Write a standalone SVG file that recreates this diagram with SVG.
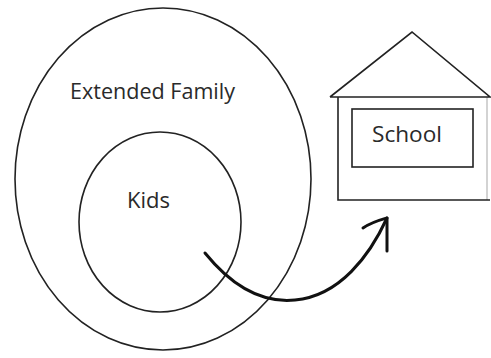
<svg xmlns="http://www.w3.org/2000/svg" width="491" height="358" viewBox="0 0 491 358">
<style>
.ln{fill:none;stroke:#222;stroke-width:1.6}
.ar{fill:none;stroke:#111;stroke-width:3;stroke-linecap:round;stroke-linejoin:round}
.t{font-family:"Open Sans","Liberation Sans",sans-serif;fill:#2a2a2a}
</style>
<rect width="491" height="358" fill="#fff"/>
<g id="extended-family">
<ellipse class="ln" cx="163" cy="179" rx="148" ry="171"/>
<text class="t" x="70" y="99" font-size="21.5" textLength="165" lengthAdjust="spacingAndGlyphs">Extended Family</text>
</g>
<g id="kids">
<ellipse class="ln" cx="160" cy="222" rx="81" ry="90"/>
<text class="t" x="127" y="208" font-size="21.5" textLength="43" lengthAdjust="spacingAndGlyphs">Kids</text>
</g>
<g id="school">
<polyline class="ln" points="330,97 412,32 490,97 330,97"/>
<polyline class="ln" points="338,97 338,200 490,200"/>
<line class="ln" x1="487" y1="97" x2="487" y2="200" stroke-opacity="0.25"/>
<rect class="ln" x="352" y="109" width="121" height="58"/>
<text class="t" x="372" y="142" font-size="22" textLength="70" lengthAdjust="spacingAndGlyphs">School</text>
</g>
<g id="connectors">
<path class="ar" d="M205,253 C235,290 265,303 295,300 C340,296 370,255 387,218"/>
<path class="ar" d="M363,228 C372,222 380,220 387,218 L387,251"/>
</g>
</svg>
